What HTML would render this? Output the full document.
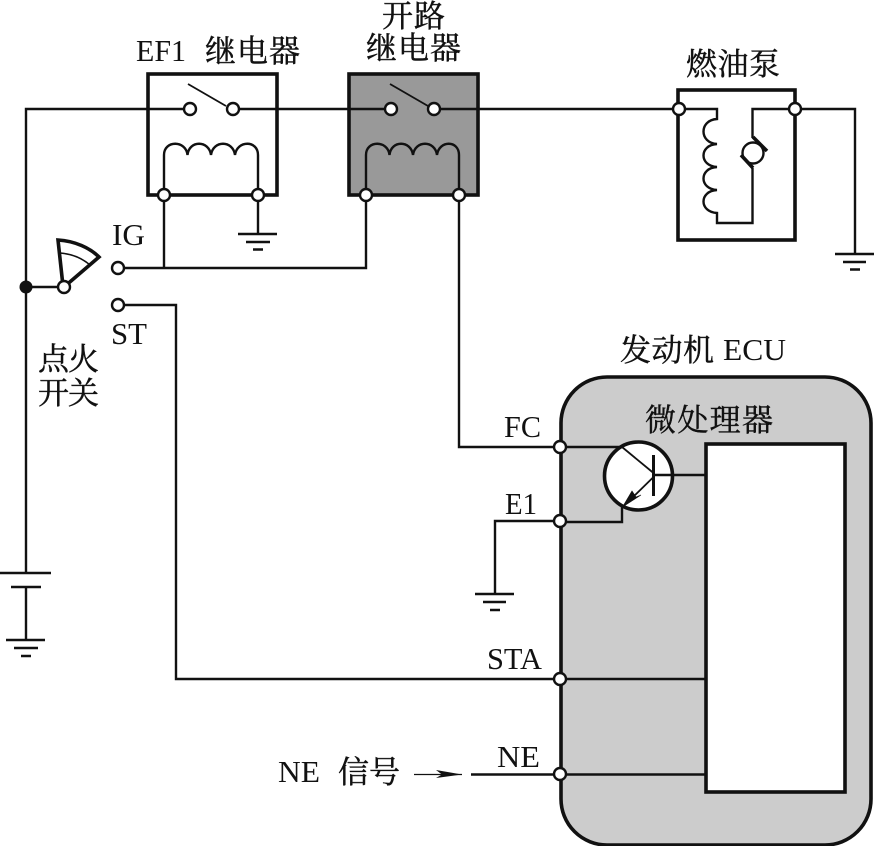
<!DOCTYPE html>
<html><head><meta charset="utf-8">
<style>
html,body{margin:0;padding:0;background:#fff}
svg{display:block}
text{font-family:"Liberation Serif","Noto Serif CJK SC",serif;fill:#111}
.l{font-size:31px}
.c{font-size:31px;stroke:#111;stroke-width:.45}
.w{fill:none;stroke:#111;stroke-width:2.4}
.b{fill:none;stroke:#111;stroke-width:3.6}
.t{fill:#fff;stroke:#111;stroke-width:2.4}
</style></head><body>
<svg xmlns="http://www.w3.org/2000/svg" width="874" height="846" viewBox="0 0 874 846">
<!-- ECU -->
<rect x="561" y="377" width="310" height="468" rx="46" ry="46" fill="#ccc" stroke="#111" stroke-width="3.6"/>
<rect x="706" y="444" width="139" height="348" fill="#fff" stroke="#111" stroke-width="3.6"/>
<!-- relay boxes -->
<rect x="148" y="74" width="129" height="121" fill="#fff" stroke="#111" stroke-width="3.6"/>
<rect x="349" y="74" width="129" height="121" fill="#999" stroke="#111" stroke-width="3.6"/>
<rect x="678" y="90" width="117" height="150" fill="#fff" stroke="#111" stroke-width="3.6"/>
<!-- wires -->
<path class="w" d="M26 573V109H190M233 109H391M434 109H679"/>
<path class="w" d="M26 287H64"/>
<path class="w" d="M118 268H366V195M164 268V195"/>
<path class="w" d="M118 305H176V679H706"/>
<path class="w" d="M459 195V447H622"/>
<path class="w" d="M560 521H495V594"/>
<path class="w" d="M471 774.500H706"/>
<path class="w" d="M258 195V234"/>
<path class="w" d="M795 109H855V254"/>
<path d="M414 774.500H462" stroke="#111" stroke-width="1.2" fill="none"/>
<path d="M436 770L462 774.500L436 778L442 774.500Z" fill="#111"/>
<!-- relay contents -->
<path d="M188 84L226 106M390 84L428 106" stroke="#111" stroke-width="1.8" fill="none"/>
<path class="w" d="M164 195V155C164 140 186 140 187.500 155C189 140 209 140 211 155C213 140 233 140 235 155C237 140 258 140 258 155V195"/>
<path class="w" d="M366 195V155C366 140 388 140 389.500 155C391 140 411 140 413 155C415 140 435 140 437 155C439 140 459 140 459 155V195"/>
<!-- pump contents -->
<path class="w" d="M679 109H717V119C699 120 699 143 717 144C699 145 699 166 717 167C699 168 699 189 717 190C699 191 699 212 717 213V223H752.500V168M752.500 138V109H795"/>
<circle cx="753" cy="153" r="10.500" fill="#fff" stroke="#111" stroke-width="2.4"/>
<path d="M753 137L767 151M741 155L753 168" stroke="#111" stroke-width="3.6" fill="none"/>
<!-- grounds -->
<path class="w" d="M238 234H277M246 242H270M253 249.500H263"/>
<path class="w" d="M835 254H874M843 262H866M850 269.500H860"/>
<path class="w" d="M475 594H514M483 602H506M490 610H500"/>
<path class="w" d="M0 573H51M11 587H41M26 587V640M6 640H45M14 648H38M21 656H31"/>
<!-- switch -->
<path class="b" d="M63 286L58 240C75 241 90 248 99 257L64 287"/>
<path d="M60 253C73 254 83 259 90 265" stroke="#111" stroke-width="1.6" fill="none"/>
<!-- transistor -->
<circle cx="638.500" cy="476" r="34" fill="#fff" stroke="#111" stroke-width="3.6"/>
<path d="M622 447L653.500 473" stroke="#111" stroke-width="1.8" fill="none"/>
<path d="M653.500 477L630 500" stroke="#111" stroke-width="1.8" fill="none"/>
<path d="M622.500 507L632 491L636 497L641 495Z" fill="#111" stroke="#111" stroke-width=".6"/>
<path d="M653.500 455V496" stroke="#111" stroke-width="3" fill="none"/>
<path class="w" d="M653.500 475H706"/>
<path class="w" d="M622 507V522H560"/>
<!-- terminals -->
<circle class="t" cx="190" cy="109" r="6"/><circle class="t" cx="233" cy="109" r="6"/>
<circle class="t" cx="391" cy="109" r="6"/><circle class="t" cx="434" cy="109" r="6"/>
<circle class="t" cx="164" cy="195" r="6"/><circle class="t" cx="258" cy="195" r="6"/>
<circle class="t" cx="366" cy="195" r="6"/><circle class="t" cx="459" cy="195" r="6"/>
<circle class="t" cx="679" cy="109" r="6"/><circle class="t" cx="795" cy="109" r="6"/>
<circle class="t" cx="118" cy="268" r="6"/><circle class="t" cx="118" cy="305" r="6"/>
<circle class="t" cx="64" cy="287" r="6"/>
<circle cx="26" cy="287" r="6.500" fill="#111"/>
<circle class="t" cx="560" cy="447" r="6"/><circle class="t" cx="560" cy="521" r="6"/>
<circle class="t" cx="560" cy="679" r="6"/><circle class="t" cx="560" cy="774" r="6"/>
<!-- labels -->
<text class="l" x="136" y="61" textLength="50" lengthAdjust="spacingAndGlyphs">EF1</text>
<text class="c" x="205" y="62" textLength="95">继电器</text>
<text class="c" x="382" y="27" textLength="63">开路</text>
<text class="c" x="366" y="59" textLength="95">继电器</text>
<text class="c" x="686" y="75" textLength="94">燃油泵</text>
<text class="l" x="112" y="245" textLength="33" lengthAdjust="spacingAndGlyphs">IG</text>
<text class="l" x="111" y="344" textLength="36" lengthAdjust="spacingAndGlyphs">ST</text>
<text class="c" x="38" y="370" textLength="61">点火</text>
<text class="c" x="38" y="404" textLength="61">开关</text>
<text class="c" x="620" y="361" textLength="94">发动机</text>
<text class="l" x="723" y="360" textLength="63" lengthAdjust="spacingAndGlyphs">ECU</text>
<text class="c" x="645" y="431" textLength="128">微处理器</text>
<text class="l" x="504" y="437" textLength="37" lengthAdjust="spacingAndGlyphs">FC</text>
<text class="l" x="505" y="514" textLength="32" lengthAdjust="spacingAndGlyphs">E1</text>
<text class="l" x="487" y="669" textLength="55" lengthAdjust="spacingAndGlyphs">STA</text>
<text class="l" x="497" y="767" textLength="43" lengthAdjust="spacingAndGlyphs">NE</text>
<text class="l" x="278" y="782" textLength="42" lengthAdjust="spacingAndGlyphs">NE</text>
<text class="c" x="338" y="783" textLength="62">信号</text>
</svg>
</body></html>
